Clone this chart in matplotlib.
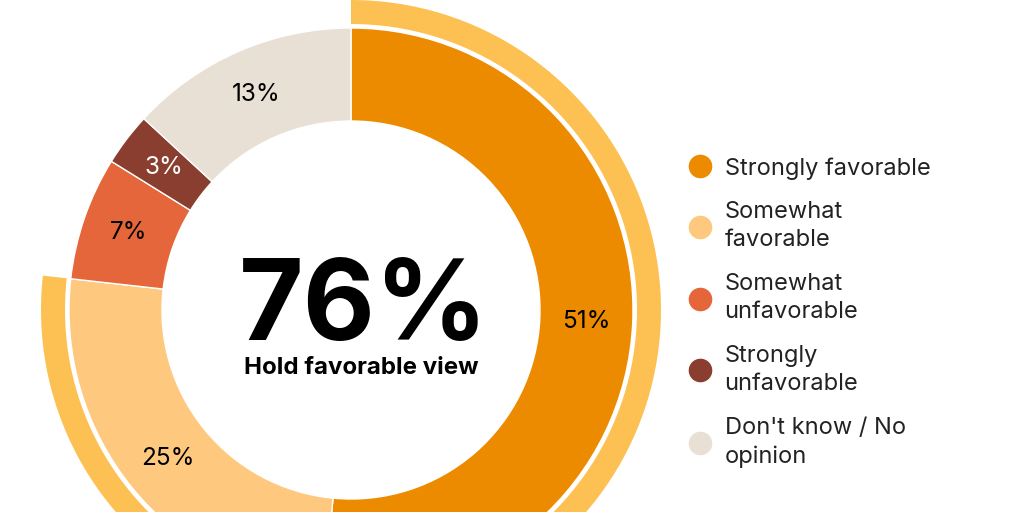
import matplotlib
matplotlib.use("Agg")
import matplotlib.pyplot as plt
from matplotlib.lines import Line2D

plt.rcParams["font.family"] = ["Inter", "DejaVu Sans"]

categories = ["Strongly favorable", "Somewhat\nfavorable", "Somewhat\nunfavorable",
              "Strongly\nunfavorable", "Don't know / No\nopinion"]
values = [51, 25, 7, 3, 13]
colors = ["#EC8B00", "#FEC97F", "#E5663A", "#8A3E2F", "#E8DFD5"]
label_colors = ["black", "black", "black", "white", "black"]
favorable = values[0] + values[1]
other = sum(values) - favorable
ring_color = "#FDC153"

W, H = 1024, 512
fig = plt.figure(figsize=(W / 100, H / 100), dpi=100)
ax = fig.add_axes([0, 0, 1, 1])

cx, cy = 351, H - 310
R = 282
hole = 189

# inner donut, labels at the middle of the band
wedges, texts, autotexts = ax.pie(
    values, colors=colors, startangle=90, counterclock=False,
    center=(cx, cy), radius=R,
    autopct=lambda p: "", pctdistance=(R + hole) / 2 / R,
    wedgeprops=dict(width=R - hole, edgecolor="white", linewidth=1.0),
)
for t, v, c in zip(autotexts, values, label_colors):
    t.set_text(f"{v}%")
    t.set_color(c)
    t.set_fontsize(17.5)

# outer ring for total favorable
ax.pie(
    [favorable, other], colors=[ring_color, "none"], startangle=90, counterclock=False,
    center=(cx, cy), radius=310,
    wedgeprops=dict(width=24, edgecolor="none"),
)

ax.text(364, H - 340, f"{favorable}%", ha="center", va="baseline",
        fontsize=80, fontweight="bold", color="black")
ax.text(361, H - 374, "Hold favorable view", ha="center", va="baseline",
        fontsize=17.3, fontweight="bold", color="black")

handles = [Line2D([], [], linestyle="none", marker="o", markersize=17,
                  markerfacecolor=c, markeredgecolor="none") for c in colors]
leg = ax.legend(handles, categories, loc="upper left", bbox_to_anchor=(688 / W, 1 - 157 / H),
                bbox_transform=fig.transFigure, frameon=False, fontsize=17,
                handlelength=1.0, handletextpad=0.55, labelspacing=0.93,
                borderpad=0, borderaxespad=0, labelcolor="#222222")
for t in leg.get_texts():
    t.set_linespacing(1.35)

ax.set_xlim(0, W)
ax.set_ylim(0, H)
ax.set_aspect("equal")
ax.axis("off")

fig.savefig("out.png", dpi=100)
